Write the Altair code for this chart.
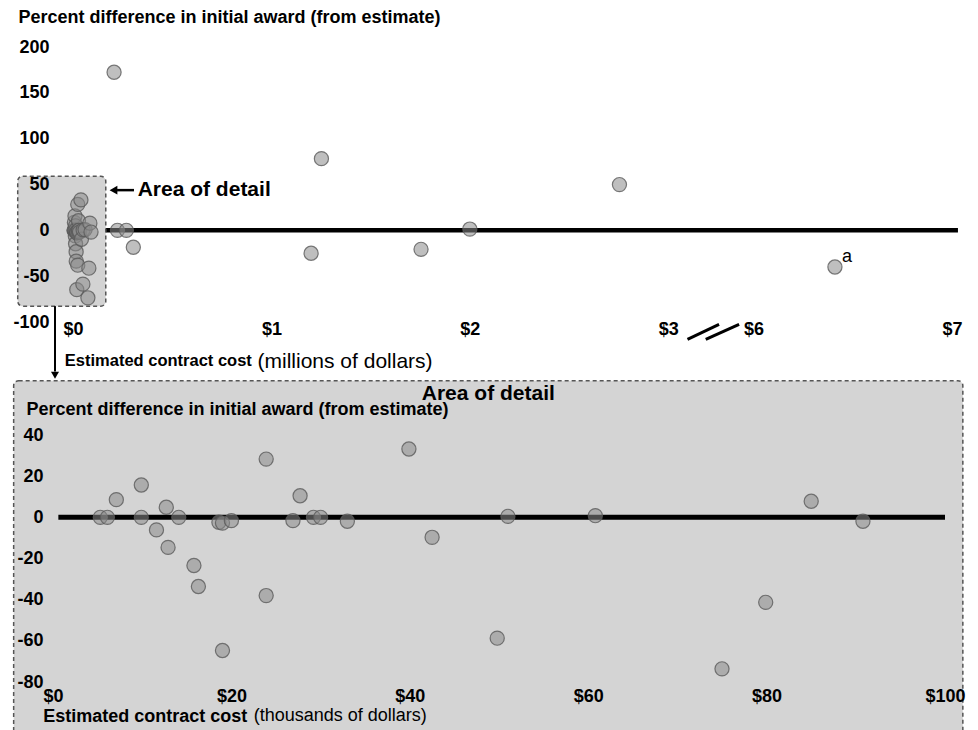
import altair as alt
import pandas as pd

# ---------------- data ----------------
# Detail panel: estimated contract cost (thousands of dollars) and percent difference
detail_cost_k = [5.3, 6.1, 7.1, 9.9, 9.9, 11.6, 12.7, 12.9, 14.1, 15.8, 16.3, 18.6, 19.0, 19.0,
                 20.0, 23.9, 23.9, 26.9, 27.7, 29.2, 30.0, 33.0, 39.9, 42.5, 49.8, 51.0, 60.8,
                 75.0, 79.9, 85.0, 90.8]
detail_pct = [0, 0, 8.6, 15.7, 0, -6.1, 4.9, -14.6, 0, -23.4, -33.6, -2.4, -2.8, -64.7,
              -1.6, 28.3, -38.0, -1.6, 10.5, 0, 0, -1.9, 33.2, -9.7, -58.7, 0.5, 0.8,
              -73.6, -41.3, 7.8, -1.9]

# Larger contracts (millions of dollars), only in the top panel
large_cost_m = [0.207, 0.224, 0.269, 0.304, 1.20, 1.252, 1.754, 2.0, 2.754, 6.41]
large_pct = [172.5, 0, 0, -18.5, -25, 78.2, -20.7, 1.4, 49.9, -40]
large_note = ["", "", "", "", "", "", "", "", "", "a"]

top_x_ticks = [0, 1, 2, 3, 6, 7]
top_y_ticks = [-100, -50, 0, 50, 100, 150, 200]
bottom_x_ticks = [0, 20, 40, 60, 80, 100]
bottom_y_ticks = [-80, -60, -40, -20, 0, 20, 40]

TITLE_Y = "Percent difference in initial award (from estimate)"
TITLE_X = "Estimated contract cost"
FONT = "Liberation Sans"

# broken x axis ($3 -> $6)
BREAK_START, BREAK_END, BREAK_GAP = 3, 6, 0.43
SHIFT = BREAK_END - BREAK_START - BREAK_GAP


def squeeze(v):
    return v if v <= BREAK_START else v - SHIFT


top_df = pd.DataFrame({
    "cost": [c / 1000 for c in detail_cost_k] + large_cost_m,
    "pct": detail_pct + large_pct,
    "note": [""] * len(detail_cost_k) + large_note,
})
top_df["xt"] = top_df["cost"].map(squeeze)
bottom_df = pd.DataFrame({"cost": detail_cost_k, "pct": detail_pct})
one = pd.DataFrame({"k": [0]})

top_xs = alt.Scale(domain=[-0.1008, squeeze(7)], nice=False, zero=False)
top_ys = alt.Scale(domain=[-100, 200], nice=False, zero=False)
bot_xs = alt.Scale(domain=[0, 100], nice=False, zero=False)
bot_ys = alt.Scale(domain=[-80, 40], nice=False, zero=False)

top_xa = alt.Axis(
    values=[squeeze(v) for v in top_x_ticks],
    labelExpr="datum.value <= 3.001 ? '$' + round(datum.value) : '$' + round(datum.value + %s)" % SHIFT,
    domain=False, ticks=False, grid=False, labelFontSize=18, labelFontWeight="bold",
    labelPadding=-2, labelFlush=False, labelOverlap=False,
    title=TITLE_X, titleFontSize=16.5, titleFontWeight="bold", titleX=11.3, titleY=38.6,
    titleAlign="left", titleBaseline="middle", zindex=1)
top_ya = alt.Axis(
    values=top_y_ticks, labelExpr="'' + datum.value",
    domain=False, ticks=False, grid=False, labelFontSize=18,
    labelFontWeight="bold", labelPadding=4, labelOverlap=False,
    title=TITLE_Y, titleAngle=0, titleX=-35, titleY=-29.7, titleAlign="left",
    titleBaseline="middle", titleFontSize=18, titleFontWeight="bold", zindex=1)
bot_xa = alt.Axis(
    values=bottom_x_ticks, labelExpr="'$' + datum.value",
    domain=False, ticks=False, grid=False, labelFontSize=18, labelFontWeight="bold",
    labelPadding=5, labelFlush=False, labelOverlap=False,
    title=TITLE_X, titleFontSize=18, titleFontWeight="bold", titleX=-10.3, titleY=34.5,
    titleAlign="left", titleBaseline="middle", zindex=1)
bot_ya = alt.Axis(
    values=bottom_y_ticks, labelExpr="'' + datum.value",
    domain=False, ticks=False, grid=False, labelFontSize=18,
    labelFontWeight="bold", labelPadding=10, labelOverlap=False,
    title=TITLE_Y, titleAngle=0, titleX=-27, titleY=-25.3, titleAlign="left",
    titleBaseline="middle", titleFontSize=18, titleFontWeight="bold", zindex=1)


def TX(v):
    return alt.XDatum(v, scale=top_xs, axis=top_xa)


def TY(v):
    return alt.YDatum(v, scale=top_ys, axis=top_ya)


def BX(v):
    return alt.XDatum(v, scale=bot_xs, axis=bot_xa)


def BY(v):
    return alt.YDatum(v, scale=bot_ys, axis=bot_ya)


dot_style = dict(size=200, fill="#8a8a8a", fillOpacity=0.55, stroke="#5a5a5a",
                 strokeWidth=1.2, strokeOpacity=0.8)

# ---------------- top panel ----------------
t_zero = alt.Chart(one).mark_rule(color="black", strokeWidth=4.5).encode(
    x=TX(0), x2=alt.X2Datum(squeeze(7.03)), y=TY(0))

t_box = alt.Chart(one).mark_rect(fill="#d3d3d3", stroke="#555555", strokeDash=[4, 3],
                                 strokeWidth=1.5, cornerRadius=5).encode(
    x=TX(-0.2786), x2=alt.X2Datum(0.1652), y=TY(59.1), y2=alt.Y2Datum(-82.7))

t_points = alt.Chart(top_df).mark_circle(**dot_style).encode(
    x=alt.X("xt:Q", scale=top_xs, axis=top_xa),
    y=alt.Y("pct:Q", scale=top_ys, axis=top_ya),
)

t_note = alt.Chart(top_df).transform_filter("datum.note != ''").mark_text(
    align="left", baseline="middle", dx=7, dy=-10, fontSize=18, font=FONT, color="black").encode(
    x=alt.X("xt:Q", scale=top_xs, axis=top_xa), y=alt.Y("pct:Q", scale=top_ys, axis=top_ya),
    text="note:N")

t_arrow_line = alt.Chart(one).mark_rule(color="black", strokeWidth=2.5).encode(
    x=TX(0.222), x2=alt.X2Datum(0.3073), y=TY(43.85))
t_arrow_head = alt.Chart(one).mark_point(shape="triangle-left", filled=True, color="black",
                                         opacity=1, size=80).encode(x=TX(0.204), y=TY(43.85))
t_detail_lbl = alt.Chart(one).mark_text(align="left", baseline="middle", fontSize=21,
                                        fontWeight="bold", font=FONT, color="black").encode(
    x=TX(0.326), y=TY(43.85), text=alt.value("Area of detail"))

t_down_line = alt.Chart(one).mark_rule(color="black", strokeWidth=2).encode(
    x=TX(-0.0907), y=TY(-82.7), y2=alt.Y2Datum(-154))
t_down_head = alt.Chart(one).mark_point(shape="triangle-down", filled=True, color="black",
                                        opacity=1, size=64).encode(x=TX(-0.0907), y=TY(-158))

t_slash1 = alt.Chart(one).mark_rule(color="black", strokeWidth=3).encode(
    x=TX(3.097), x2=alt.X2Datum(3.256), y=TY(-119), y2=alt.Y2Datum(-102.6))
t_slash2 = alt.Chart(one).mark_rule(color="black", strokeWidth=3).encode(
    x=TX(3.189), x2=alt.X2Datum(3.357), y=TY(-119), y2=alt.Y2Datum(-102.6))

t_units = alt.Chart(one).mark_text(align="left", baseline="middle", fontSize=21,
                                   font=FONT, color="black").encode(
    x=TX(0.93), y=TY(-144), text=alt.value("(millions of dollars)"))

top = alt.layer(t_zero, t_box, t_points, t_note, t_arrow_line, t_arrow_head, t_detail_lbl,
                t_down_line, t_down_head, t_slash1, t_slash2, t_units).properties(
    width=899, height=275)

# ---------------- bottom panel (area of detail) ----------------
b_box = alt.Chart(one).mark_rect(fill="#d4d4d4", stroke="#555555", strokeDash=[4, 3],
                                 strokeWidth=1.5, cornerRadius=5).encode(
    x=BX(-4.41), x2=alt.X2Datum(102.0), y=BY(66.4), y2=alt.Y2Datum(-108))

b_zero = alt.Chart(one).mark_rule(color="black", strokeWidth=5).encode(
    x=BX(0.6), x2=alt.X2Datum(100), y=BY(0))

b_points = alt.Chart(bottom_df).mark_circle(**dot_style).encode(
    x=alt.X("cost:Q", scale=bot_xs, axis=bot_xa),
    y=alt.Y("pct:Q", scale=bot_ys, axis=bot_ya),
)

b_title = alt.Chart(one).mark_text(align="center", baseline="middle", fontSize=21,
                                   fontWeight="bold", font=FONT, color="black").encode(
    x=BX(48.8), y=BY(60.0), text=alt.value("Area of detail"))

b_units = alt.Chart(one).mark_text(align="left", baseline="middle", fontSize=18,
                                   font=FONT, color="black").encode(
    x=BX(22.5), y=BY(-96.7), text=alt.value("(thousands of dollars)"))

bottom = alt.layer(b_box, b_zero, b_points, b_title, b_units).properties(width=892, height=247)

chart = alt.vconcat(top, bottom, spacing=113, bounds="flush").properties(
    padding={"left": 4, "top": 0, "right": 0, "bottom": 0},
    background="white",
).configure_view(stroke=None).configure_axis(
    labelFont=FONT, titleFont=FONT, labelColor="black", titleColor="black")

chart.save("out.html", embed_options={"renderer": "svg", "actions": False})
